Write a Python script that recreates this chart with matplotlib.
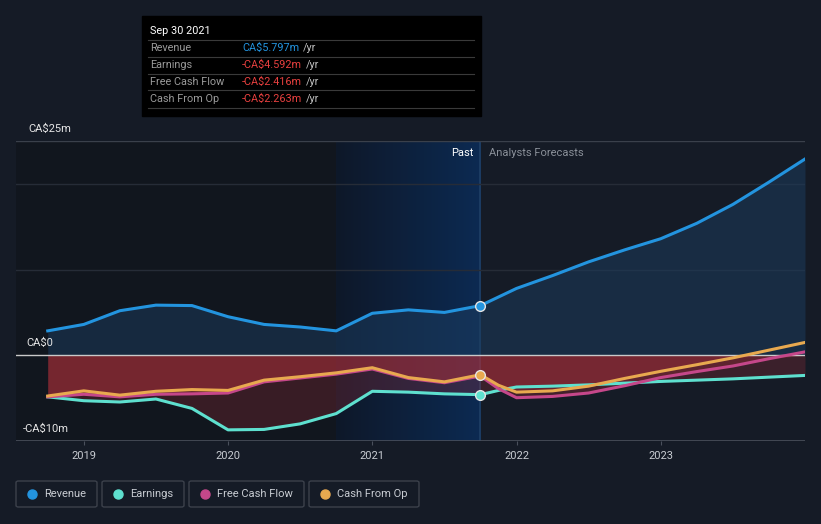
import numpy as np
import matplotlib.pyplot as plt
from matplotlib.patches import Rectangle, FancyBboxPatch
from matplotlib.colors import to_rgb

plt.rcParams['font.family'] = ['Roboto', 'DejaVu Sans']

# ---------------- data (CA$ m, x = decimal year) ----------------
past_x = [2018.75, 2019.0, 2019.25, 2019.5, 2019.75, 2020.0, 2020.25, 2020.5,
          2020.75, 2021.0, 2021.25, 2021.5, 2021.75]
fc_x = [2021.75, 2021.875, 2022.0, 2022.25, 2022.5, 2022.75, 2023.0, 2023.25,
        2023.5, 2023.75, 2024.0]

revenue_past = [2.85, 3.6, 5.2, 5.85, 5.8, 4.5, 3.6, 3.3, 2.85, 4.9, 5.3, 5.0, 5.797]
earnings_past = [-4.85, -5.3, -5.45, -5.1, -6.2, -8.7, -8.65, -8.0, -6.8, -4.2, -4.3, -4.5, -4.592]
fcf_past = [-4.85, -4.55, -4.85, -4.55, -4.5, -4.4, -3.1, -2.65, -2.2, -1.6, -2.7, -3.2, -2.416]
cfo_past = [-4.75, -4.15, -4.65, -4.2, -4.0, -4.1, -2.9, -2.5, -2.05, -1.45, -2.6, -3.1, -2.263]

revenue_fc = [5.797, 6.8, 7.8, 9.3, 10.9, 12.3, 13.6, 15.4, 17.6, 20.2, 22.9]
earnings_fc = [-4.592, -4.1, -3.7, -3.6, -3.45, -3.25, -3.05, -2.9, -2.75, -2.55, -2.35]
fcf_fc = [-2.416, -3.9, -4.95, -4.8, -4.4, -3.55, -2.6, -1.9, -1.25, -0.4, 0.4]
cfo_fc = [-2.263, -3.5, -4.3, -4.15, -3.6, -2.7, -1.87, -1.1, -0.3, 0.6, 1.5]

years = [2019, 2020, 2021, 2022, 2023]
tooltip_rows = [("Revenue", "CA$5.797m"), ("Earnings", "-CA$4.592m"),
                ("Free Cash Flow", "-CA$2.416m"), ("Cash From Op", "-CA$2.263m")]
legend_names = ["Revenue", "Earnings", "Free Cash Flow", "Cash From Op"]

# ---------------- style ----------------
bg = '#151b26'
c_rev = '#2394df'
c_earn = '#5ee0cf'
c_fcf = '#c5478a'
c_cfo = '#e8a94f'
colors = [c_rev, c_earn, c_fcf, c_cfo]

fig = plt.figure(figsize=(8.21, 5.24), dpi=100, facecolor=bg)
ax = fig.add_axes([16 / 821, 83 / 524, 789 / 821, 300 / 524])
ax.set_facecolor(bg)
ax.set_xlim(2018.53, 2024.0)
ax.set_ylim(-10, 25)

# background zones
ax.axvspan(2018.53, 2020.75, color='#0f1218', alpha=0.55, lw=0, zorder=0)
c0, c1 = np.array(to_rgb('#0e1829')), np.array(to_rgb('#0c2a52'))
grad = np.linspace(0, 1, 64)[None, :, None] * (c1 - c0) + c0
ax.imshow(grad, extent=[2020.75, 2021.75, -10, 25], aspect='auto', zorder=0.5)
ax.axvline(2021.75, color='#1f3f66', lw=1.2, zorder=1)

# grid
for g in [10, 20]:
    ax.axhline(g, color='#262c37', lw=1, zorder=1)
ax.axhline(25, color='#3a404b', lw=1, zorder=1)

all_x = past_x + fc_x[1:]
rev = np.array(revenue_past + revenue_fc[1:])
earn = np.array(earnings_past + earnings_fc[1:])
fcf = np.array(fcf_past + fcf_fc[1:])
cfo = np.array(cfo_past + cfo_fc[1:])

# fills
ax.fill_between(all_x, 0, rev, color='#1c3d60', alpha=0.5, lw=0, zorder=2)
for s, a in [(earn, 0.25), (fcf, 0.3), (cfo, 0.3)]:
    ax.fill_between(all_x, 0, np.minimum(s, 0), color='#b0303a', alpha=a, lw=0, zorder=2)

ax.axhline(0, color='#c9c9c9', lw=1, zorder=3)

# lines
ax.plot(all_x, earn, color=c_earn, lw=2.2, zorder=4)
ax.plot(all_x, fcf, color=c_fcf, lw=2.2, zorder=5)
ax.plot(all_x, cfo, color=c_cfo, lw=2.2, zorder=6)
ax.plot(all_x, rev, color=c_rev, lw=2.2, zorder=6)

# markers at the present
for val, c in [(revenue_past[-1], c_rev), (earnings_past[-1], c_earn), (cfo_past[-1], c_cfo)]:
    ax.plot(past_x[-1], val, 'o', ms=7, mfc=c, mec='#e6e6e6', mew=1, zorder=8)

# axes
for sp in ax.spines.values():
    sp.set_visible(False)
ax.axhline(-10, color='#4a505c', lw=1.2, zorder=3)
ax.set_yticks([])
ax.set_xticks(years)
ax.set_xticklabels([str(y) for y in years], color='#c8ccd2', fontsize=8)
ax.tick_params(axis='x', length=3, color='#4a505c', pad=4)

# y labels
fig.text(28 / 821, 1 - 129 / 524, "CA$25m", color='#e6e6e6', fontsize=8, va='center')
fig.text(26 / 821, 1 - 343 / 524, "CA$0", color='#e6e6e6', fontsize=8, va='center')
fig.text(23 / 821, 1 - 429 / 524, "-CA$10m", color='#e6e6e6', fontsize=8, va='center')

fig.text(473 / 821, 1 - 153 / 524, "Past", color='#ffffff', fontsize=8, va='center', ha='right')
fig.text(489 / 821, 1 - 153 / 524, "Analysts Forecasts", color='#8a9099', fontsize=8, va='center')

# tooltip
fig.patches.append(Rectangle((142 / 821, 1 - 116 / 524), 339 / 821, 100 / 524,
                             transform=fig.transFigure, color='#000000', zorder=10))
fig.text(150 / 821, 1 - 31 / 524, "Sep 30 2021", color='#ffffff', fontsize=7.8,
         va='center', zorder=11)
fig.canvas.draw()
renderer = fig.canvas.get_renderer()
for i, (lab, val) in enumerate(tooltip_rows):
    yy = 48 + 17 * i
    fig.add_artist(plt.Line2D([148 / 821, 474 / 821], [1 - (yy - 8.5) / 524] * 2,
                              color='#3a3a3a', lw=0.8, zorder=11))
    fig.text(150 / 821, 1 - yy / 524, lab, color='#9a9a9a', fontsize=7.8, va='center', zorder=11)
    vc = c_rev if i == 0 else '#e8403f'
    t = fig.text(242 / 821, 1 - yy / 524, val, color=vc, fontsize=7.8, va='center', zorder=11)
    x_end = t.get_window_extent(renderer).x1
    fig.text((x_end + 4) / 821, 1 - yy / 524, "/yr",
             color='#c0c0c0', fontsize=7.8, va='center', zorder=11)
fig.add_artist(plt.Line2D([148 / 821, 474 / 821], [1 - 107.5 / 524] * 2,
                          color='#3a3a3a', lw=0.8, zorder=11))

# legend buttons
boxes = [(16, 97), (102, 184), (189, 304), (309, 419)]
for (x0, x1), name, c in zip(boxes, legend_names, colors):
    fig.patches.append(FancyBboxPatch((x0 / 821, 1 - 507 / 524), (x1 - x0) / 821, 26 / 524,
                                      boxstyle='round,pad=0,rounding_size=0.003',
                                      transform=fig.transFigure, fc='none', ec='#3c414b', lw=1))
    fig.add_artist(plt.Line2D([(x0 + 16) / 821], [1 - 494 / 524], marker='o', ms=6.5,
                              color=c, mec=c))
    fig.text((x0 + 28) / 821, 1 - 494 / 524, name, color='#c8ccd2', fontsize=8, va='center')

fig.savefig('out.png', dpi=100, facecolor=bg)
